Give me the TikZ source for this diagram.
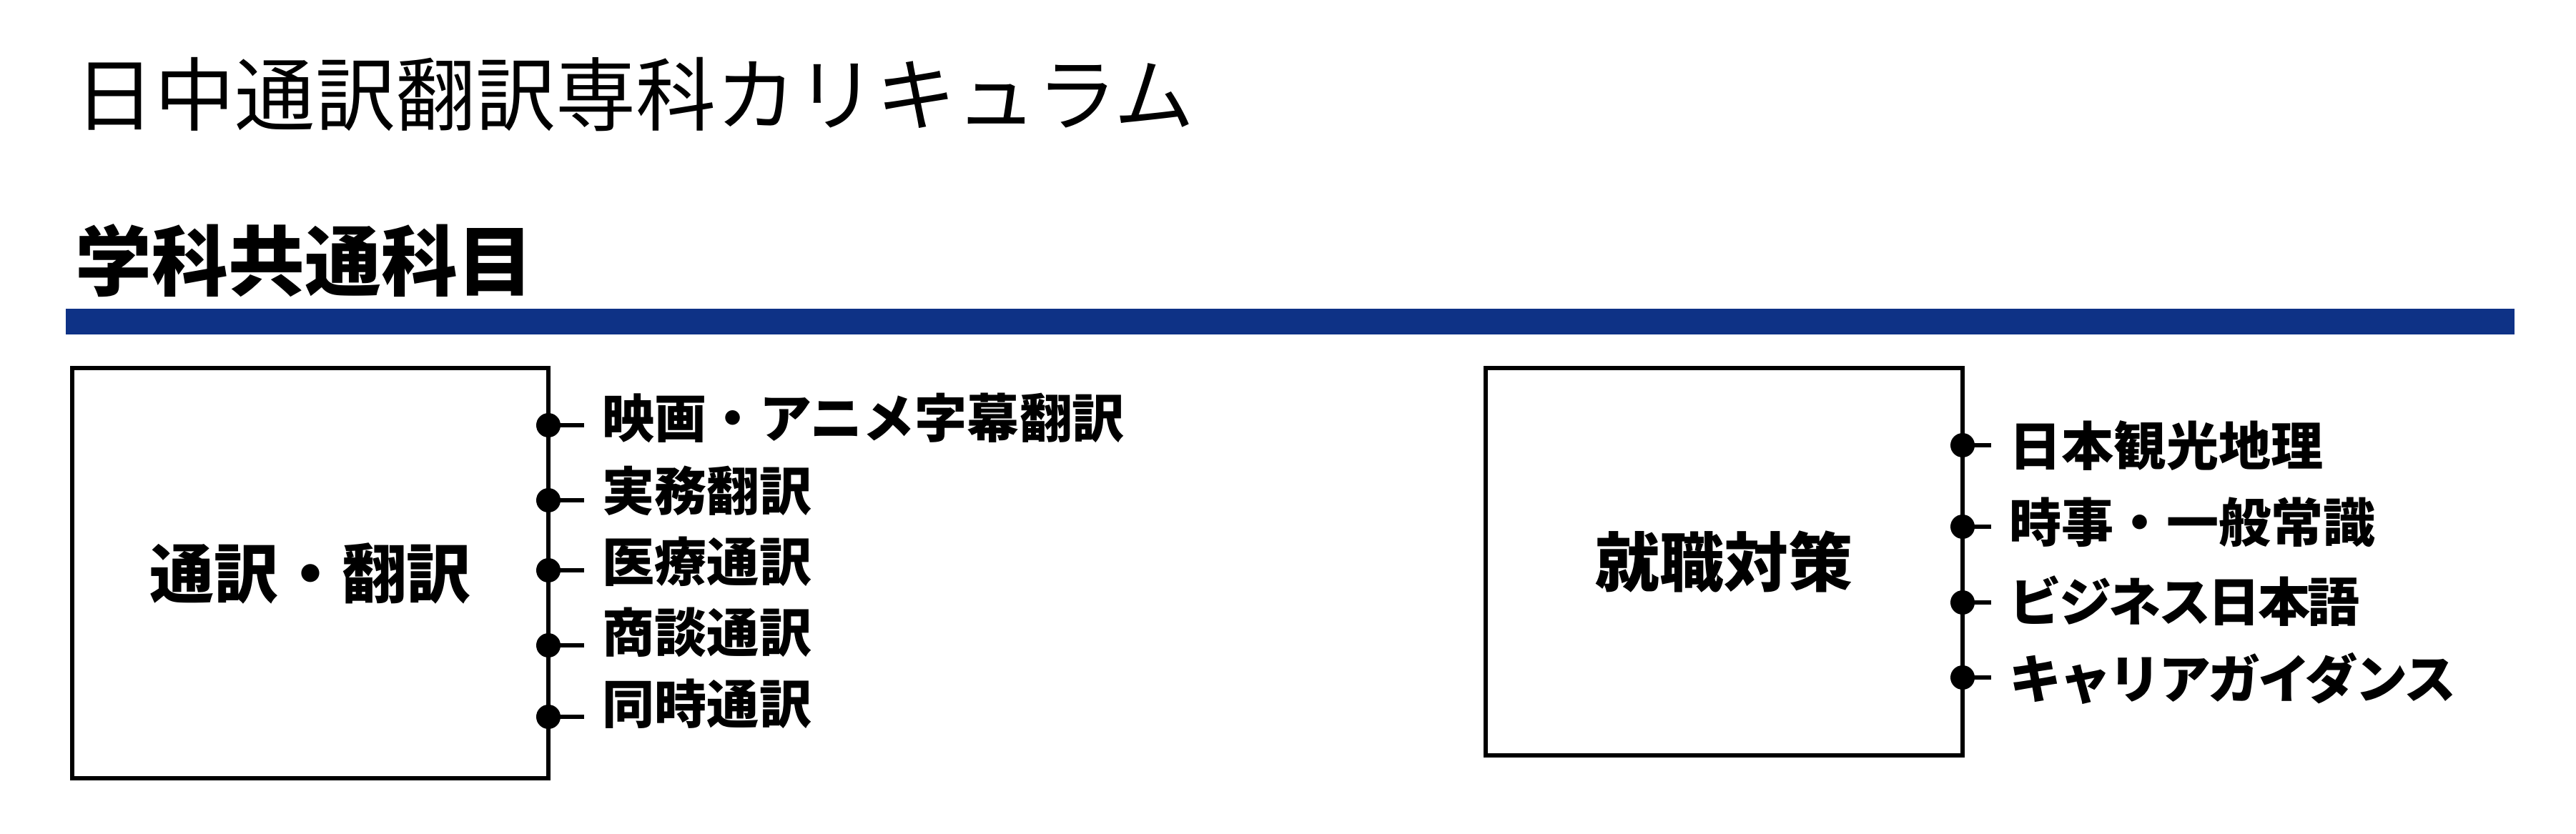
\documentclass[tikz,border=0pt]{standalone}
\usepackage{fontspec}
\setmainfont{Noto Sans CJK JP}
\usetikzlibrary{positioning}
\definecolor{barblue}{RGB}{14,50,134}

\begin{document}
\begin{tikzpicture}[x=1cm,y=1cm,
  box/.style={draw,line width=1.7pt,outer sep=0pt,inner sep=0pt,
    font=\bfseries\fontsize{25.6}{30}\selectfont},
  item/.style={anchor=west,inner xsep=0.25cm,inner ysep=0pt,
    font=\bfseries\fontsize{20.8}{25}\selectfont},
  dot/.style={circle,fill,inner sep=0pt,minimum size=0.34cm},
  link/.style={line width=1.7pt}]
  \useasboundingbox (0,0) rectangle (36.03,-11.66);
  % headings
  \node[anchor=west,inner sep=0pt,font=\fontsize{31.9}{38}\selectfont]
    (title) at (1.04,-1.325) {日中通訳翻訳専科カリキュラム};
  \node[anchor=west,inner sep=0pt,font=\bfseries\fontsize{30.4}{36}\selectfont]
    (head) at (1.05,-3.65) {学科共通科目};
  \fill[barblue] (0.92,-4.32) rectangle (35.17,-4.68);
  % boxes
  \node[box,minimum width=6.66cm,minimum height=5.74cm] (tsu) at (4.34,-8.02)  {通訳・翻訳};
  \node[box,minimum width=6.67cm,minimum height=5.42cm] (shu) at (24.115,-7.86) {就職対策};
  % left items
  \node[item] (l1) at (8.17,-5.85) {映画・アニメ字幕翻訳};
  \node[item] (l2) at (8.17,-6.87) {実務翻訳};
  \node[item] (l3) at (8.17,-7.86) {医療通訳};
  \node[item] (l4) at (8.17,-8.85) {商談通訳};
  \node[item] (l5) at (8.17,-9.85) {同時通訳};
  \node[dot] (ld1) at (7.67,-5.95)  {};
  \node[dot] (ld2) at (7.67,-7.00)  {};
  \node[dot] (ld3) at (7.67,-7.98)  {};
  \node[dot] (ld4) at (7.67,-9.03)  {};
  \node[dot] (ld5) at (7.67,-10.03) {};
  % right items
  \node[item] (r1) at (27.85,-6.24) {日本観光地理};
  \node[item] (r2) at (27.85,-7.31) {時事・一般常識};
  \node[item] (r3) at (27.85,-8.41) {\addfontfeature{LetterSpace=-5}ビジネス日本語};
  \node[item] (r4) at (27.85,-9.49) {\addfontfeature{LetterSpace=-5}キャリアガイダンス};
  \node[dot] (rd1) at (27.45,-6.23) {};
  \node[dot] (rd2) at (27.45,-7.37) {};
  \node[dot] (rd3) at (27.45,-8.43) {};
  \node[dot] (rd4) at (27.45,-9.48) {};
  \draw[link] (ld1.center) -- (ld1 -| l1.west);
  \draw[link] (ld2.center) -- (ld2 -| l2.west);
  \draw[link] (ld3.center) -- (ld3 -| l3.west);
  \draw[link] (ld4.center) -- (ld4 -| l4.west);
  \draw[link] (ld5.center) -- (ld5 -| l5.west);
  \draw[link] (rd1.center) -- (rd1 -| r1.west);
  \draw[link] (rd2.center) -- (rd2 -| r2.west);
  \draw[link] (rd3.center) -- (rd3 -| r3.west);
  \draw[link] (rd4.center) -- (rd4 -| r4.west);
\end{tikzpicture}
\end{document}
